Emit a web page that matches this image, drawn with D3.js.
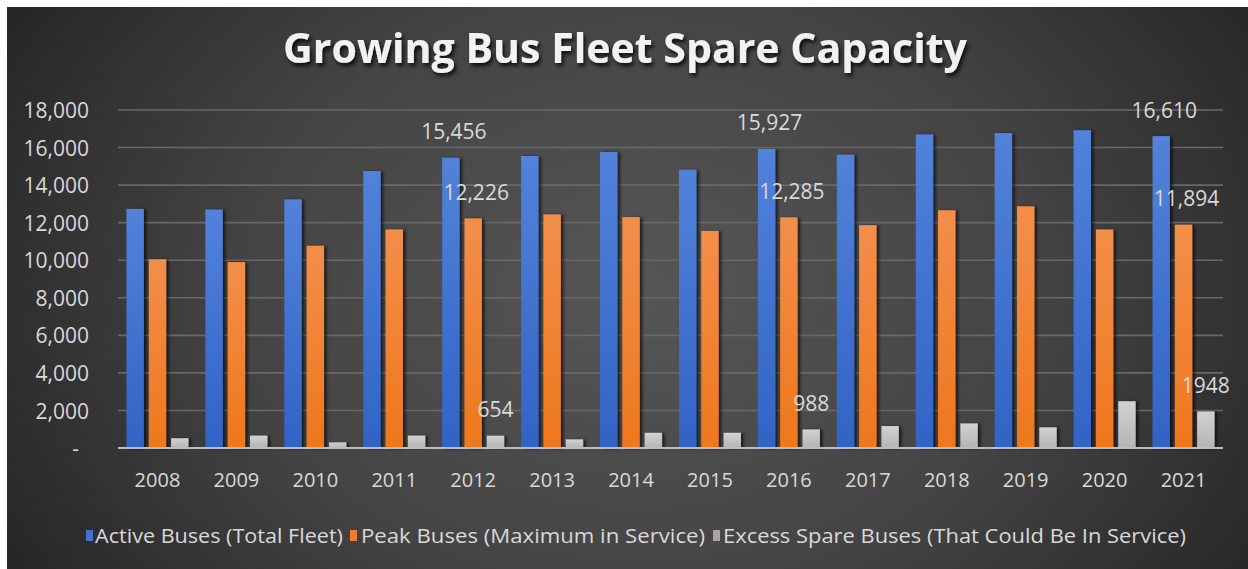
<!DOCTYPE html>
<html>
<head>
<meta charset="utf-8">
<script src="https://cdn.jsdelivr.net/npm/d3@7"></script>
<style>
  html, body { margin: 0; padding: 0; background: #ffffff; }
  svg { display: block; }
  text { font-family: "Open Sans", "Noto Sans", sans-serif; }
</style>
</head>
<body>
<svg id="chart" width="1248" height="569"></svg>
<script>
// Fleet figures by year
const years = ["2008","2009","2010","2011","2012","2013","2014","2015","2016","2017","2018","2019","2020","2021"];
const activeBuses = [12730, 12700, 13240, 14750, 15456, 15550, 15760, 14820, 15927, 15620, 16700, 16770, 16920, 16610];
const peakBuses   = [10050, 9900, 10770, 11640, 12226, 12440, 12300, 11560, 12285, 11870, 12660, 12870, 11640, 11894];
const spareBuses  = [520, 660, 300, 660, 654, 460, 810, 810, 988, 1170, 1310, 1100, 2490, 1948];
const seriesNames = ["Active Buses (Total Fleet)", "Peak Buses (Maximum in Service)", "Excess Spare Buses (That Could Be In Service)"];
const labeledYears = ["2012", "2016", "2021"];
const yTicks = [0, 2000, 4000, 6000, 8000, 10000, 12000, 14000, 16000, 18000];
const titleText = "Growing Bus Fleet Spare Capacity";

const seriesValues = [activeBuses, peakBuses, spareBuses];
const seriesKeys = ["active", "peak", "spare"];
const gradStops = {
  active: ["#5282da", "#3163c6"],
  peak:   ["#f38e4a", "#ef771c"],
  spare:  ["#d2d2d2", "#b4b4b4"]
};
const legendColors = { active: "#4472d0", peak: "#ed7d31", spare: "#a5a5a5" };

const svg = d3.select("#chart");
const defs = svg.append("defs");

// background: dark radial gradient
const bg = defs.append("radialGradient").attr("id", "bgGrad")
  .attr("gradientUnits", "userSpaceOnUse")
  .attr("cx", 640).attr("cy", 290).attr("r", 720)
  .attr("gradientTransform", "translate(640,290) scale(1,0.75) translate(-640,-290)");
bg.append("stop").attr("offset", "0").attr("stop-color", "#565656");
bg.append("stop").attr("offset", "0.55").attr("stop-color", "#444444");
bg.append("stop").attr("offset", "1").attr("stop-color", "#272727");

seriesKeys.forEach(k => {
  const g = defs.append("linearGradient").attr("id", "g-" + k)
    .attr("x1", 0).attr("y1", 0).attr("x2", 0).attr("y2", 1);
  g.append("stop").attr("offset", "0").attr("stop-color", gradStops[k][0]);
  g.append("stop").attr("offset", "1").attr("stop-color", gradStops[k][1]);
});

const barShadow = defs.append("filter").attr("id", "barShadow")
  .attr("x", "-30%").attr("y", "-5%").attr("width", "180%").attr("height", "115%");
barShadow.append("feDropShadow").attr("dx", 2.5).attr("dy", 0.5)
  .attr("stdDeviation", 1.4).attr("flood-color", "#000").attr("flood-opacity", 0.65);

const titleShadow = defs.append("filter").attr("id", "titleShadow")
  .attr("x", "-10%").attr("y", "-30%").attr("width", "120%").attr("height", "160%");
titleShadow.append("feDropShadow").attr("dx", 2).attr("dy", 3)
  .attr("stdDeviation", 2).attr("flood-color", "#000").attr("flood-opacity", 0.85);

svg.append("rect").attr("x", 7).attr("y", 7).attr("width", 1241).attr("height", 562)
  .attr("fill", "url(#bgGrad)");

// scales
const x0 = d3.scaleBand().domain(years).range([118, 1223]).paddingInner(0.2145).paddingOuter(0.10725);
const x1 = d3.scaleBand().domain(seriesKeys).range([0, x0.bandwidth()]).paddingInner(0.22);
const y = d3.scaleLinear().domain([0, 18000]).range([448, 110]);

// gridlines
svg.append("g").selectAll("line").data(yTicks.filter(t => t > 0)).join("line")
  .attr("x1", 118).attr("x2", 1223)
  .attr("y1", d => y(d)).attr("y2", d => y(d))
  .attr("stroke", "#686868").attr("stroke-width", 1.6);

// y axis labels
const yAxis = d3.axisLeft(y).tickValues(yTicks).tickSize(0).tickPadding(0)
  .tickFormat(d => d === 0 ? "-" : d3.format(",")(d));
const yG = svg.append("g").attr("transform", "translate(89,0)").call(yAxis);
yG.select(".domain").remove();
yG.selectAll("text").attr("fill", "#d9d9d9").attr("font-size", 21)
  .attr("font-family", "'Open Sans', sans-serif")
  .attr("dy", "0.36em")
  .attr("x", d => d === 0 ? -10 : 0);

// bars
const rows = years.map((yr, i) => ({ year: yr, values: seriesKeys.map((k, s) => ({ key: k, value: seriesValues[s][i], year: yr })) }));
const groups = svg.append("g").selectAll("g").data(rows).join("g")
  .attr("transform", d => `translate(${x0(d.year)},0)`);
groups.selectAll("rect").data(d => d.values).join("rect")
  .attr("x", d => x1(d.key))
  .attr("y", d => y(d.value))
  .attr("width", x1.bandwidth())
  .attr("height", d => y(0) - y(d.value))
  .attr("fill", d => `url(#g-${d.key})`)
  .attr("filter", "url(#barShadow)");

// baseline
svg.append("line").attr("x1", 118).attr("x2", 1223).attr("y1", y(0)).attr("y2", y(0))
  .attr("stroke", "#b9bcc2").attr("stroke-width", 2);

// x axis labels
const xAxis = d3.axisBottom(x0).tickSize(0).tickPadding(0);
const xG = svg.append("g").attr("transform", "translate(0,480)").call(xAxis);
xG.select(".domain").remove();
xG.selectAll("text").attr("fill", "#d9d9d9").attr("font-size", 20)
  .attr("font-family", "'Open Sans', sans-serif").attr("dy", "0.36em");

// value labels for selected years
const labelData = [];
rows.forEach(r => { if (labeledYears.includes(r.year)) r.values.forEach(v => labelData.push(v)); });
svg.append("g").selectAll("text").data(labelData).join("text")
  .attr("x", d => x0(d.year) + x1(d.key) + x1.bandwidth() / 2 + (d.key === "spare" ? 0 : 3))
  .attr("y", d => y(d.value) - 26)
  .attr("dy", "0.36em")
  .attr("text-anchor", "middle")
  .attr("fill", "#d9d9d9").attr("font-size", 21)
  .text(d => d.key === "spare" ? String(d.value) : d3.format(",")(d.value));

// title
const title = svg.append("text").attr("x", 625).attr("y", 63)
  .attr("text-anchor", "middle").attr("fill", "#f2f2f2")
  .attr("font-weight", 700).attr("font-size", 36)
  .attr("filter", "url(#titleShadow)")
  .text(titleText);
const tw = title.node().getComputedTextLength();
title.attr("font-size", 36 * 684 / tw);

// legend
const legendLayout = [
  { key: "active", mx: 86, tx: 95, tw: 248 },
  { key: "peak", mx: 350, tx: 361, tw: 344 },
  { key: "spare", mx: 713, tx: 723, tw: 463 }
];
const lg = svg.append("g");
legendLayout.forEach((l, i) => {
  lg.append("rect").attr("x", l.mx).attr("y", 530).attr("width", 7).attr("height", 11)
    .attr("fill", legendColors[l.key]);
  lg.append("text").attr("x", l.tx).attr("y", 536).attr("dy", "0.36em")
    .attr("fill", "#d9d9d9").attr("font-size", 20)
    .attr("textLength", l.tw).attr("lengthAdjust", "spacingAndGlyphs")
    .text(seriesNames[i]);
});
</script>
</body>
</html>
